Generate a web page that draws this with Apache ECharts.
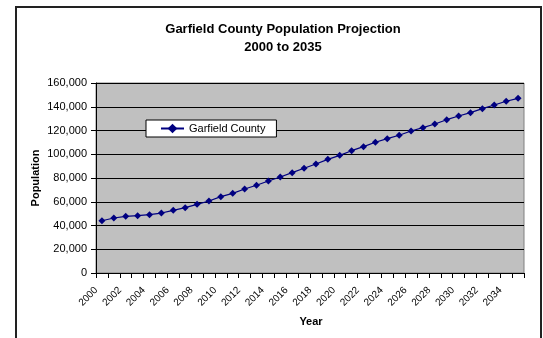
<!DOCTYPE html>
<html>
<head>
<meta charset="utf-8">
<script src="https://cdn.jsdelivr.net/npm/echarts@6/dist/echarts.min.js"></script>
<style>
  html, body { margin: 0; padding: 0; background: #fff; }
  #chart { width: 543px; height: 338px; }
</style>
</head>
<body>
<div id="chart"></div>
<script>
// Projected population of Garfield County, one value per year
const years = [];
for (let y = 2000; y <= 2035; y++) years.push(String(y));

const population = [
  44000, 46300, 47700, 48300, 49100, 50500, 52800, 55000, 57800, 60600,
  64300, 67100, 70700, 73900, 77500, 80800, 84500, 88200, 91800, 95700,
  99100, 103000, 106400, 110100, 113100, 116000, 119600, 122400, 125500, 129100,
  132200, 135000, 138400, 141500, 144600, 147100
];

const seriesName = 'Garfield County';
const titleLines = ['Garfield County Population Projection', '2000 to 2035'];
const yAxisName = 'Population';
const xAxisName = 'Year';

const font = 'Arial, "Liberation Sans", sans-serif';
const chart = echarts.init(document.getElementById('chart'), null, { renderer: 'canvas' });

chart.setOption({
  animation: false,
  backgroundColor: '#fff',
  title: {
    text: titleLines.join('\n'),
    left: 278,
    top: 15,
    textAlign: 'center',
    textStyle: { fontFamily: font, fontSize: 13, fontWeight: 'bold', color: '#000', lineHeight: 18 }
  },
  legend: {
    left: 146,
    top: 120,
    orient: 'horizontal',
    backgroundColor: '#fff',
    borderColor: '#000',
    borderWidth: 1,
    borderRadius: 0,
    padding: [3, 11, 3, 14],
    itemWidth: 23,
    itemHeight: 12,
    textStyle: { fontFamily: font, fontSize: 11, color: '#000' },
    data: [seriesName]
  },
  grid: {
    left: 96, top: 83, right: 19, bottom: 65,
    show: true,
    backgroundColor: '#C0C0C0',
    borderColor: '#808080',
    borderWidth: 1,
    containLabel: false
  },
  xAxis: {
    type: 'category',
    data: years,
    boundaryGap: true,
    axisLine: { lineStyle: { color: '#000', width: 1 } },
    axisTick: { show: true, interval: 0, length: 5, lineStyle: { color: '#000' } },
    axisLabel: {
      interval: 1,
      rotate: 45,
      margin: 10,
      padding: [0, 8, 0, 0],
      fontFamily: font,
      fontSize: 10,
      color: '#000'
    },
    splitLine: { show: false }
  },
  yAxis: {
    type: 'value',
    min: 0,
    max: 160000,
    interval: 20000,
    axisLine: { show: true, lineStyle: { color: '#000', width: 1 } },
    axisTick: { show: true, length: 5, lineStyle: { color: '#000' } },
    axisLabel: {
      margin: 9,
      fontFamily: font,
      fontSize: 11,
      color: '#000',
      formatter: v => v.toLocaleString('en-US')
    },
    splitLine: { show: true, lineStyle: { color: '#000', width: 1 } }
  },
  series: [{
    name: seriesName,
    type: 'line',
    data: population,
    symbol: 'diamond',
    symbolSize: 7,
    showSymbol: true,
    color: '#000080',
    lineStyle: { color: '#000080', width: 1.2 },
    itemStyle: { color: '#000080' }
  }],
  graphic: [
    {
      type: 'rect',
      shape: { x: 16, y: 7, width: 525, height: 345 },
      style: { fill: 'none', stroke: '#222', lineWidth: 2 },
      silent: true,
      z: 100
    },
    {
      type: 'text',
      x: 36, y: 178,
      rotation: Math.PI / 2,
      style: {
        text: yAxisName,
        font: 'bold 11px ' + font,
        fill: '#000',
        align: 'center',
        verticalAlign: 'middle'
      }
    },
    {
      type: 'text',
      x: 311, y: 322,
      style: {
        text: xAxisName,
        font: 'bold 11px ' + font,
        fill: '#000',
        align: 'center',
        verticalAlign: 'middle'
      }
    }
  ]
});
</script>
</body>
</html>
